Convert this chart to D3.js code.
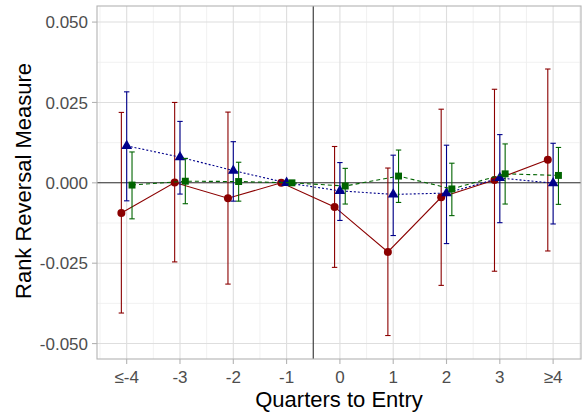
<!DOCTYPE html>
<html>
<head>
<meta charset="utf-8">
<script src="https://cdn.jsdelivr.net/npm/d3@7"></script>
<style>
  body { margin: 0; background: #fff; }
  text { font-family: "Liberation Sans", Arial, sans-serif; }
</style>
</head>
<body>
<svg id="chart" width="583" height="415"></svg>
<script>
// categories (quarters to entry)
var quarters = ["\u2264-4", "-3", "-2", "-1", "0", "1", "2", "3", "\u22654"];

// red series (solid, circles)
var redEst = [-0.0094, 0.0001, -0.0048, 0, -0.0075, -0.0215, -0.0045, 0.0009, 0.0072];
var redLo  = [-0.0405, -0.0246, -0.0315, null, -0.0263, -0.0475, -0.0319, -0.0275, -0.0212];
var redHi  = [0.0219, 0.0250, 0.0220, null, 0.0113, 0.0046, 0.0229, 0.0291, 0.0354];

// blue series (dotted, triangles)
var blueEst = [0.0115, 0.0080, 0.0038, 0, -0.0025, -0.0036, -0.0032, 0.0015, -0.0001];
var blueLo  = [-0.0056, -0.0035, -0.0057, null, -0.0117, -0.0164, -0.0189, -0.0124, -0.0128];
var blueHi  = [0.0283, 0.0191, 0.0128, null, 0.0063, 0.0086, 0.0117, 0.0150, 0.0123];

// green series (dashed, squares)
var greenEst = [-0.0007, 0.0005, 0.0004, 0, -0.0010, 0.0021, -0.0019, 0.0028, 0.0023];
var greenLo  = [-0.0112, -0.0065, -0.0057, null, -0.0066, -0.0061, -0.0102, -0.0066, -0.0067];
var greenHi  = [0.0096, 0.0076, 0.0064, null, 0.0045, 0.0102, 0.0061, 0.0121, 0.0110];

var yTicks = [-0.05, -0.025, 0, 0.025, 0.05];

var svg = d3.select("#chart");

var panel = { left: 97, right: 581, top: 6, bottom: 359 };

var x = d3.scaleLinear().domain([0.443, 9.523]).range([panel.left, panel.right]);
var y = d3.scaleLinear().domain([-0.0548, 0.055]).range([panel.bottom, panel.top]);

// gridlines
var g = svg.append("g");
var minorY = [-0.0375, -0.0125, 0.0125, 0.0375];
var minorX = d3.range(0.5, 10, 1);

g.selectAll(".minY").data(minorY).enter().append("line")
  .attr("x1", panel.left).attr("x2", panel.right)
  .attr("y1", d => y(d)).attr("y2", d => y(d))
  .attr("stroke", "#ededed").attr("stroke-width", 0.8);
g.selectAll(".minX").data(minorX).enter().append("line")
  .attr("y1", panel.top).attr("y2", panel.bottom)
  .attr("x1", d => x(d)).attr("x2", d => x(d))
  .attr("stroke", "#ededed").attr("stroke-width", 0.8);
g.selectAll(".majY").data(yTicks).enter().append("line")
  .attr("x1", panel.left).attr("x2", panel.right)
  .attr("y1", d => y(d)).attr("y2", d => y(d))
  .attr("stroke", "#dedede").attr("stroke-width", 1.1);
g.selectAll(".majX").data(quarters).enter().append("line")
  .attr("y1", panel.top).attr("y2", panel.bottom)
  .attr("x1", (d, i) => x(i + 1)).attr("x2", (d, i) => x(i + 1))
  .attr("stroke", "#dedede").attr("stroke-width", 1.1);

// reference lines
svg.append("line")
  .attr("x1", panel.left).attr("x2", panel.right)
  .attr("y1", y(0)).attr("y2", y(0))
  .attr("stroke", "#333").attr("stroke-width", 1.1);
svg.append("line")
  .attr("x1", x(4.5)).attr("x2", x(4.5))
  .attr("y1", panel.top).attr("y2", panel.bottom)
  .attr("stroke", "#333").attr("stroke-width", 1.1);

// series
var series = [
  { est: redEst, lo: redLo, hi: redHi, color: "#8b0000", dx: -0.1, dash: null, shape: d3.symbolCircle, size: 50 },
  { est: blueEst, lo: blueLo, hi: blueHi, color: "#00008b", dx: 0, dash: "2,2", shape: d3.symbolTriangle, size: 50 },
  { est: greenEst, lo: greenLo, hi: greenHi, color: "#006400", dx: 0.1, dash: "4,3", shape: d3.symbolSquare, size: 48 }
];

series.forEach(function(s) {
  var pts = s.est.map((v, i) => ({ i: i + 1, v: v, lo: s.lo[i], hi: s.hi[i] }));

  var line = d3.line().x(d => x(d.i + s.dx)).y(d => y(d.v));
  svg.append("path").datum(pts)
    .attr("d", line)
    .attr("fill", "none")
    .attr("stroke", s.color)
    .attr("stroke-width", 1.1)
    .attr("stroke-dasharray", s.dash);

  var bars = pts.filter(d => d.lo !== null);
  var eg = svg.append("g").attr("stroke", s.color).attr("stroke-width", 1.1);
  eg.selectAll(".v").data(bars).enter().append("line")
    .attr("x1", d => x(d.i + s.dx)).attr("x2", d => x(d.i + s.dx))
    .attr("y1", d => y(d.lo)).attr("y2", d => y(d.hi));
  eg.selectAll(".t").data(bars).enter().append("line")
    .attr("x1", d => x(d.i + s.dx) - 2.7).attr("x2", d => x(d.i + s.dx) + 2.7)
    .attr("y1", d => y(d.hi)).attr("y2", d => y(d.hi));
  eg.selectAll(".b").data(bars).enter().append("line")
    .attr("x1", d => x(d.i + s.dx) - 2.7).attr("x2", d => x(d.i + s.dx) + 2.7)
    .attr("y1", d => y(d.lo)).attr("y2", d => y(d.lo));

  svg.append("g").selectAll("path").data(pts).enter().append("path")
    .attr("d", d3.symbol().type(s.shape).size(s.size))
    .attr("transform", d => "translate(" + x(d.i + s.dx) + "," + y(d.v) + ")")
    .attr("fill", s.color);
});

// panel border
svg.append("rect")
  .attr("x", panel.left).attr("y", panel.top)
  .attr("width", panel.right - panel.left).attr("height", panel.bottom - panel.top)
  .attr("fill", "none").attr("stroke", "#b3b3b3").attr("stroke-width", 1.1);

// y axis
var yAxis = svg.append("g");
yAxis.selectAll("line").data(yTicks).enter().append("line")
  .attr("x1", panel.left - 5).attr("x2", panel.left)
  .attr("y1", d => y(d)).attr("y2", d => y(d))
  .attr("stroke", "#b3b3b3").attr("stroke-width", 1.1);
yAxis.selectAll("text").data(yTicks).enter().append("text")
  .attr("x", panel.left - 9).attr("y", d => y(d))
  .attr("dy", "0.36em")
  .attr("text-anchor", "end")
  .attr("font-size", 17)
  .attr("fill", "#4d4d4d")
  .text(d => d3.format(".3f")(d).replace("\u2212", "-"));

// x axis
var xAxis = svg.append("g");
xAxis.selectAll("line").data(quarters).enter().append("line")
  .attr("x1", (d, i) => x(i + 1)).attr("x2", (d, i) => x(i + 1))
  .attr("y1", panel.bottom).attr("y2", panel.bottom + 5)
  .attr("stroke", "#b3b3b3").attr("stroke-width", 1.1);
xAxis.selectAll("text").data(quarters).enter().append("text")
  .attr("x", (d, i) => x(i + 1)).attr("y", 383)
  .attr("text-anchor", "middle")
  .attr("font-size", 17)
  .attr("fill", "#4d4d4d")
  .text(d => d);

// axis titles
svg.append("text")
  .attr("x", (panel.left + panel.right) / 2).attr("y", 407)
  .attr("text-anchor", "middle")
  .attr("font-size", 22)
  .attr("fill", "#000")
  .text("Quarters to Entry");
svg.append("text")
  .attr("transform", "translate(31,181) rotate(-90)")
  .attr("text-anchor", "middle")
  .attr("font-size", 22)
  .attr("fill", "#000")
  .text("Rank Reversal Measure");
</script>
</body>
</html>
